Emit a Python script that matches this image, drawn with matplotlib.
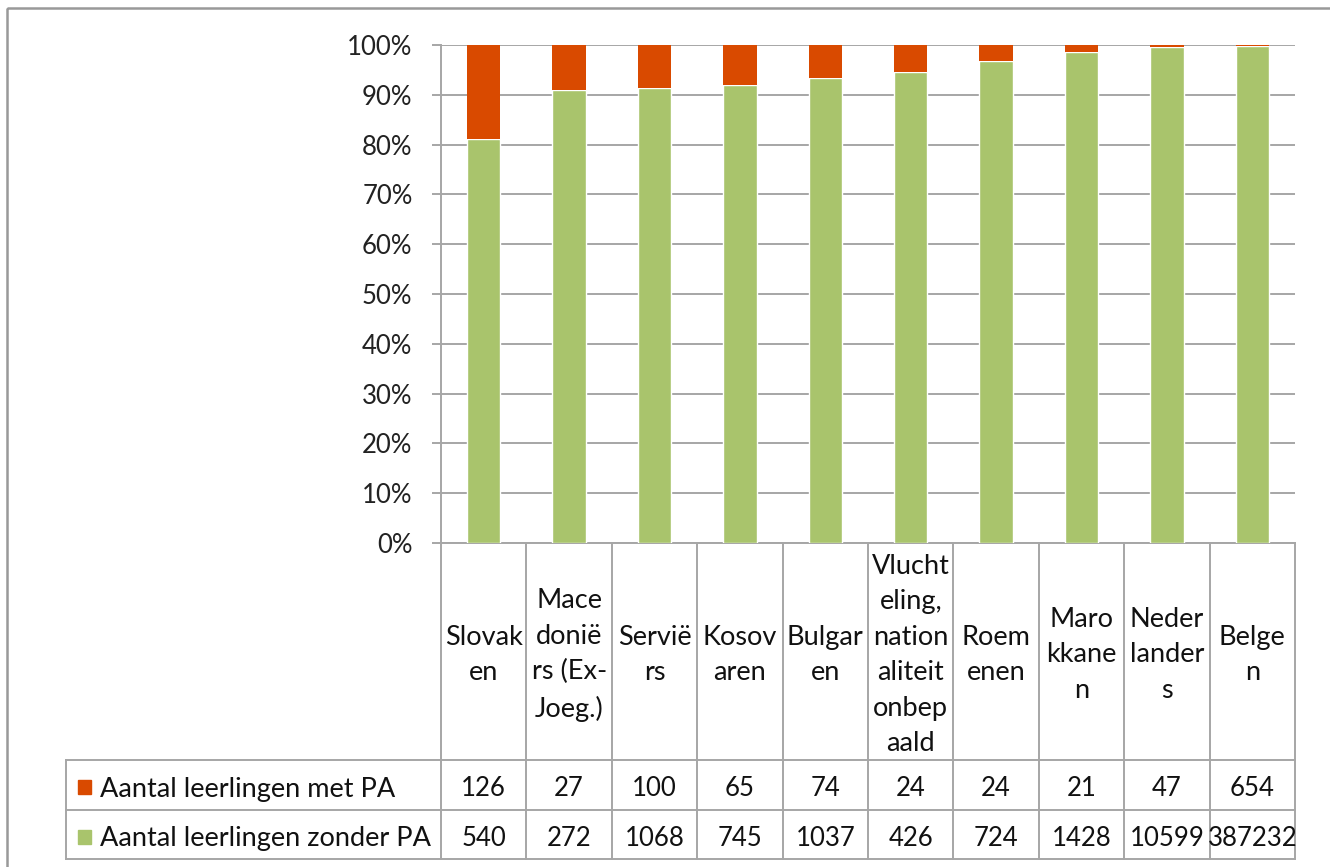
import matplotlib
matplotlib.use("Agg")
import matplotlib.pyplot as plt
import numpy as np
from matplotlib.lines import Line2D
from matplotlib.patches import Rectangle
import matplotlib.transforms as mtransforms

# ---------------- data ----------------
categories = [
    "Slovak\nen",
    "Mace\ndonië\nrs (Ex-\nJoeg.)",
    "Servië\nrs",
    "Kosov\naren",
    "Bulgar\nen",
    "Vlucht\neling,\nnation\naliteit\nonbep\naald",
    "Roem\nenen",
    "Maro\nkkane\nn",
    "Neder\nlander\ns",
    "Belge\nn",
]
met_pa = [126, 27, 100, 65, 74, 24, 24, 21, 47, 654]
zonder_pa = [540, 272, 1068, 745, 1037, 426, 724, 1428, 10599, 387232]
series_labels = ["Aantal leerlingen met PA", "Aantal leerlingen zonder PA"]
y_ticks = [0, 10, 20, 30, 40, 50, 60, 70, 80, 90, 100]

# ---------------- styling ----------------
W, H = 1330, 867
GREEN = "#A9C46C"
ORANGE = "#D94A00"
GRID = "#A6A6A6"
FONT = "Lato"
FS_TXT = 19.5
FS_NUM = 18.5

plt.rcParams["font.family"] = [FONT, "DejaVu Sans"]

fig = plt.figure(figsize=(W / 100, H / 100), dpi=100)
fig.patch.set_facecolor("white")

# overlay axes in pixel coordinates for the table / frame
ov = fig.add_axes([0, 0, 1, 1], zorder=0)
ov.set_xlim(0, W)
ov.set_ylim(H, 0)
ov.axis("off")

# main chart axes
x0, x1, ytop, ybot = 441, 1295, 45, 543
ax = fig.add_axes([x0 / W, 1 - ybot / H, (x1 - x0) / W, (ybot - ytop) / H], zorder=2)
ax.patch.set_alpha(0)

met = np.array(met_pa, dtype=float)
zon = np.array(zonder_pa, dtype=float)
tot = met + zon
pct_zon = zon / tot * 100
pct_met = met / tot * 100

x = np.arange(len(categories))
bw = 0.39
ax.bar(x, pct_zon, width=bw, color=GREEN, edgecolor="white", linewidth=1.0, zorder=3)
ax.bar(x, pct_met, width=bw, bottom=pct_zon, color=ORANGE, linewidth=0, zorder=4)

ax.set_xlim(-0.5, len(categories) - 0.5)
ax.set_ylim(0, 100)
ax.set_yticks(y_ticks)
ax.set_yticklabels([f"{v}%" for v in y_ticks], fontsize=FS_NUM, color="#222222")
ax.set_xticks([])
ax.yaxis.grid(True, color=GRID, linewidth=1.4, zorder=0)
ax.set_axisbelow(True)
ax.tick_params(axis="y", length=6.5, width=1.4, color=GRID, pad=14)
for s in ["top", "right"]:
    ax.spines[s].set_visible(False)
for s in ["left", "bottom"]:
    ax.spines[s].set_color(GRID)
    ax.spines[s].set_linewidth(1.4)

# ---------------- data table ----------------
tr = mtransforms.blended_transform_factory(ax.transData, ov.transData)
row_top, row_mid, row_bot = 760, 810, 859
left_tab = 66
lc = GRID
lw = 1.4

for b in np.arange(-0.5, len(categories), 1.0):
    ov.add_line(Line2D([b, b], [ybot, row_bot], transform=tr, color=lc, lw=lw, zorder=1))
ov.add_line(Line2D([left_tab, left_tab], [row_top, row_bot], color=lc, lw=lw))
for yy in (row_top, row_mid, row_bot):
    ov.add_line(Line2D([left_tab, x1], [yy, yy], color=lc, lw=lw))

# category labels
for i, c in enumerate(categories):
    ov.text(i, 655, c, transform=tr, ha="center", va="center", fontsize=FS_TXT,
            linespacing=1.52, color="#111111")

# row labels with legend keys
row_centers = [(row_top + row_mid) / 2, (row_mid + row_bot) / 2]
colors = [ORANGE, GREEN]
for yc, lab, col in zip(row_centers, series_labels, colors):
    ov.add_patch(Rectangle((78, yc - 5), 13, 14, color=col))
    ov.text(100, yc + 4, lab, ha="left", va="center", fontsize=FS_TXT, color="#111111")

for i in range(len(categories)):
    ov.text(i, row_centers[0] + 4, str(met_pa[i]), transform=tr, ha="center",
            va="center", fontsize=FS_NUM, color="#111111")
    ov.text(i, row_centers[1] + 4, str(zonder_pa[i]), transform=tr, ha="center",
            va="center", fontsize=FS_NUM, color="#111111")

# outer frame (top and left visible)
ov.add_patch(Rectangle((6.5, 7.5), W + 20, H + 20, fill=False, edgecolor="#999999", lw=1.8))

fig.savefig("out.png", dpi=100, facecolor="white")
